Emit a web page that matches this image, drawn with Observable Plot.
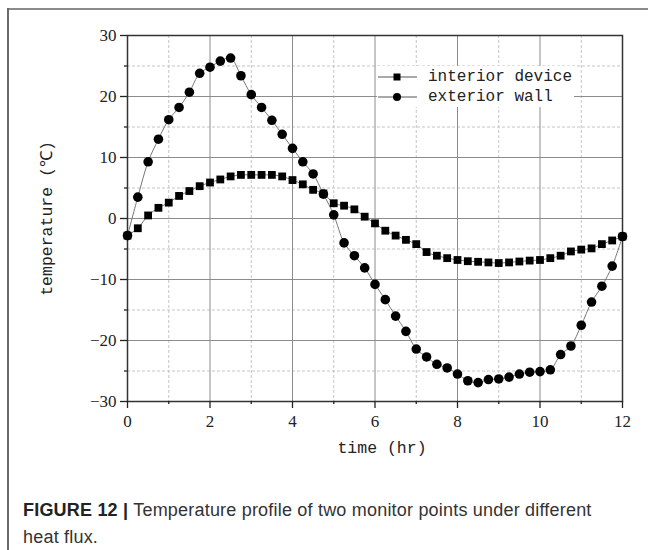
<!DOCTYPE html>
<html>
<head>
<meta charset="utf-8">
<script src="https://cdn.jsdelivr.net/npm/d3@7"></script>
<script src="https://cdn.jsdelivr.net/npm/@observablehq/plot@0.6"></script>
<style>
  html, body { margin: 0; padding: 0; background: #fff; }
  #wrap { position: relative; width: 648px; height: 550px; overflow: hidden; background: #fff; }
  #chart { position: absolute; left: 0; top: 0; }
  .bt { position: absolute; left: 7px; top: 8px; width: 641px; height: 2px; background: #8a8a8a; }
  .bl { position: absolute; left: 7px; top: 8px; width: 2px; height: 542px; background: #6a6a6a; }
  #legend { position: absolute; left: 377px; top: 66px; width: 197px; height: 41px; background: #fff;
            font-family: "Liberation Mono", monospace; font-size: 16px; color: #222; }
  .row { position: absolute; left: 0; height: 20px; width: 197px; }
  .row svg { position: absolute; left: 0; top: 0; }
  .row span { position: absolute; left: 51px; top: 0; line-height: 20px; white-space: nowrap; }
  .cap { position: absolute; left: 23px; white-space: nowrap;
         font-family: "Liberation Sans", Arial, sans-serif; font-size: 18px; letter-spacing: 0.2px;
         line-height: 27px; color: #333; }
  .cap .fig { font-weight: bold; color: #222; margin-right: 5px; }
</style>
</head>
<body>
<div id="wrap">
  <div id="chart"></div>
  <div class="bt"></div>
  <div class="bl"></div>
  <div id="legend"></div>
  <div class="cap" style="top:497px"><span class="fig">FIGURE 12 |</span><span>Temperature profile of two monitor points under different</span></div>
  <div class="cap" style="top:524px"><span>heat flux.</span></div>
</div>
<script>
// ---- data ----
const timeHr = [0, 0.25, 0.5, 0.75, 1, 1.25, 1.5, 1.75, 2, 2.25, 2.5, 2.75, 3, 3.25, 3.5, 3.75,
  4, 4.25, 4.5, 4.75, 5, 5.25, 5.5, 5.75, 6, 6.25, 6.5, 6.75, 7, 7.25, 7.5, 7.75,
  8, 8.25, 8.5, 8.75, 9, 9.25, 9.5, 9.75, 10, 10.25, 10.5, 10.75, 11, 11.25, 11.5, 11.75, 12];

const interiorDevice = [-2.8, -1.6, 0.5, 1.75, 2.6, 3.7, 4.5, 5.3, 5.9, 6.4, 6.9, 7.15, 7.15, 7.15, 7.15, 6.9,
  6.3, 5.6, 4.7, 4.1, 2.5, 2.1, 1.5, 0.3, -0.8, -2.0, -2.8, -3.5, -4.2, -5.5, -6.1, -6.5,
  -6.8, -7.0, -7.1, -7.2, -7.3, -7.2, -7.05, -6.9, -6.8, -6.5, -6.1, -5.4, -5.1, -4.9, -4.2, -3.6, -2.95];

const exteriorWall = [-2.8, 3.5, 9.3, 13.0, 16.2, 18.2, 20.7, 23.8, 24.8, 25.8, 26.3, 23.4, 20.3, 18.2, 16.1, 13.8,
  11.5, 9.3, 7.3, 4.0, 0.6, -4.0, -6.1, -8.1, -10.8, -13.3, -16.0, -18.5, -21.4, -22.7, -23.9, -24.5,
  -25.5, -26.6, -26.9, -26.4, -26.3, -26.0, -25.5, -25.2, -25.1, -24.8, -22.3, -20.9, -17.5, -13.7, -11.1, -7.8, -2.95];

const seriesNames = ["interior device", "exterior wall"];
const xMajorTicks = [0, 2, 4, 6, 8, 10, 12];
const xMinorTicks = [1, 3, 5, 7, 9, 11];
const yMajorTicks = [-30, -20, -10, 0, 10, 20, 30];
const yMinorTicks = [-25, -15, -5, 5, 15, 25];
const xLabel = "time (hr)";
const yLabel = "temperature (\u2103)";

// ---- build table ----
const interior = timeHr.map((t, i) => ({t, v: interiorDevice[i], s: seriesNames[0]}));
const exterior = timeHr.map((t, i) => ({t, v: exteriorWall[i], s: seriesNames[1]}));
const minusFmt = d => d < 0 ? "\u2212" + Math.abs(d) : String(d);
const serif = "'Liberation Serif', 'DejaVu Serif', serif";
const mono = "'Liberation Mono', 'DejaVu Sans Mono', monospace";

const chart = Plot.plot({
  width: 648,
  height: 470,
  marginLeft: 127,
  marginRight: 26,
  marginTop: 35,
  marginBottom: 69,
  x: {domain: [0, 12]},
  y: {domain: [-30, 30]},
  style: {fontFamily: serif, fontSize: "16px", color: "#222", background: "transparent", overflow: "visible"},
  marks: [
    Plot.gridX(xMinorTicks, {stroke: "#c4c4c4", strokeOpacity: 1, strokeDasharray: "3,2"}),
    Plot.gridY(yMinorTicks, {stroke: "#c4c4c4", strokeOpacity: 1, strokeDasharray: "3,2"}),
    Plot.gridX(xMajorTicks, {stroke: "#8c8c8c", strokeOpacity: 1}),
    Plot.gridY(yMajorTicks, {stroke: "#8c8c8c", strokeOpacity: 1}),
    Plot.frame({stroke: "#333", strokeWidth: 1.5}),
    Plot.axisX(xMajorTicks, {tickSize: 7, tickPadding: 6, tickFormat: minusFmt, label: null, stroke: "#222", strokeWidth: 1.3,
      fontSize: 17, fontFamily: serif, fill: "#222"}),
    Plot.axisX(xMinorTicks, {tickSize: 3, tickFormat: () => "", label: null, stroke: "#222", strokeWidth: 1.3}),
    Plot.axisY(yMajorTicks, {tickSize: 7, tickPadding: 4, tickFormat: minusFmt, label: null, stroke: "#222", strokeWidth: 1.3,
      fontSize: 17, fontFamily: serif, fill: "#222"}),
    Plot.axisY(yMinorTicks, {tickSize: 3, tickFormat: () => "", label: null, stroke: "#222", strokeWidth: 1.3}),
    Plot.text([xLabel], {frameAnchor: "bottom", textAnchor: "middle", dx: 7, dy: 51, text: d => d,
      fontFamily: mono, fontSize: 16.5, fill: "#222"}),
    Plot.text([yLabel], {frameAnchor: "left", textAnchor: "middle", dx: -81, rotate: -90, text: d => d,
      fontFamily: mono, fontSize: 16.5, fill: "#222"}),
    Plot.line(interior, {x: "t", y: "v", stroke: "#777", strokeWidth: 1, curve: "catmull-rom"}),
    Plot.line(exterior, {x: "t", y: "v", stroke: "#777", strokeWidth: 1, curve: "catmull-rom"}),
    Plot.dot(interior, {x: "t", y: "v", symbol: "square", r: 4.4, fill: "#000", stroke: "none"}),
    Plot.dot(exterior, {x: "t", y: "v", symbol: "circle", r: 4.8, fill: "#000", stroke: "none"})
  ]
});
document.getElementById("chart").appendChild(chart);

// ---- legend ----
const legend = document.getElementById("legend");
seriesNames.forEach((name, i) => {
  const row = document.createElement("div");
  row.className = "row";
  row.style.top = (1 + i * 20) + "px";
  const sym = i === 0
    ? '<rect x="16.5" y="6.5" width="7" height="7" fill="#000"/>'
    : '<circle cx="20" cy="10" r="4" fill="#000"/>';
  row.innerHTML = '<svg width="42" height="20"><line x1="1" x2="40" y1="10" y2="10" stroke="#555" stroke-width="1"/>' + sym + '</svg><span>' + name + '</span>';
  legend.appendChild(row);
});
</script>
</body>
</html>
